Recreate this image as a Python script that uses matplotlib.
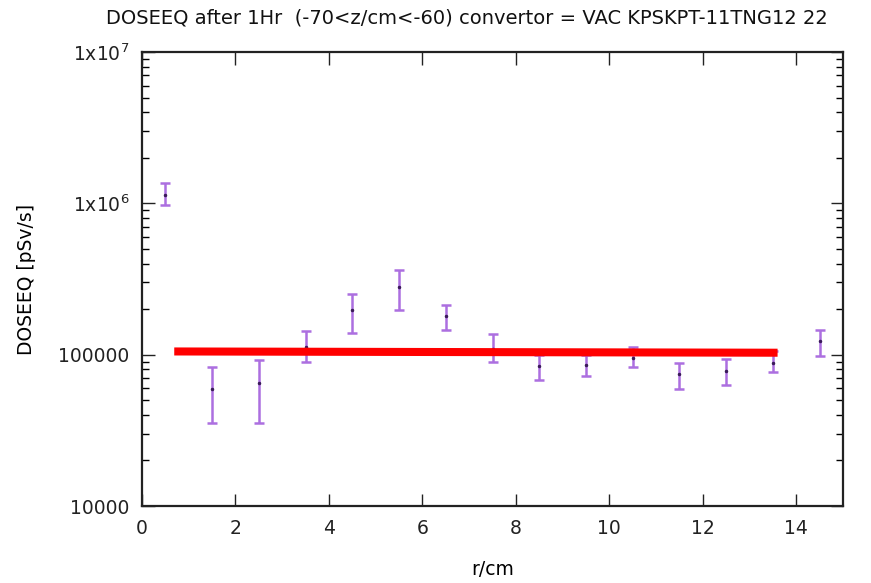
import matplotlib
matplotlib.use("Agg")
import matplotlib.pyplot as plt
import numpy as np
from matplotlib.ticker import LogLocator, FixedLocator, FixedFormatter, NullFormatter

r = [0.5, 1.5, 2.5, 3.5, 4.5, 5.5, 6.5, 7.5, 8.5, 9.5, 10.5, 11.5, 12.5, 13.5, 14.5]
dose = [1.14e6, 5.9e4, 6.5e4, 1.13e5, 1.96e5, 2.82e5, 1.79e5, 1.09e5, 8.4e4, 8.6e4,
        9.5e4, 7.4e4, 7.8e4, 8.8e4, 1.24e5]
dose_lo = [9.7e5, 3.52e4, 3.52e4, 8.9e4, 1.39e5, 1.98e5, 1.46e5, 9.0e4, 6.85e4, 7.2e4,
           8.25e4, 5.95e4, 6.35e4, 7.65e4, 9.75e4]
dose_hi = [1.37e6, 8.3e4, 9.2e4, 1.43e5, 2.51e5, 3.6e5, 2.14e5, 1.36e5, 1.0e5, 1.0e5,
           1.12e5, 8.75e4, 9.4e4, 1.06e5, 1.46e5]
fit_r = [0.69, 13.6]
fit_dose = [1.05e5, 1.03e5]

title = "DOSEEQ after 1Hr  (-70<z/cm<-60) convertor = VAC KPSKPT-11TNG12 22"
xlabel = "r/cm"
ylabel = "DOSEEQ [pSv/s]"
xticks = [0, 2, 4, 6, 8, 10, 12, 14]
yticks = [1e4, 1e5, 1e6, 1e7]
yticklabels = ["10000", "100000", r"1x10$^{6}$", r"1x10$^{7}$"]

plt.rcParams['font.family'] = ['DejaVu Sans']
fig = plt.figure(figsize=(8.71, 5.83), dpi=100)
ax = fig.add_axes([142/871, 1-506/583, (843-142)/871, (506-52)/583])

dose = np.array(dose)
yerr = [dose - np.array(dose_lo), np.array(dose_hi) - dose]
ax.errorbar(r, dose, yerr=yerr, fmt='o', ms=1.5, color='#a565dc', mfc='#3a1a5a', mec='#3a1a5a',
            ecolor='#ac6fe0', elinewidth=1.8, capsize=3.8, capthick=1.8, zorder=3)
ax.plot(fit_r, fit_dose, color='#ff0000', lw=5.8, solid_capstyle='butt', zorder=4)

ax.set_yscale('log')
ax.set_xlim(0, 15)
ax.set_ylim(1e4, 1e7)
ax.xaxis.set_major_locator(FixedLocator(xticks))
ax.yaxis.set_major_locator(FixedLocator(yticks))
ax.yaxis.set_major_formatter(FixedFormatter(yticklabels))
ax.yaxis.set_minor_locator(LogLocator(base=10, subs=np.arange(2, 10), numticks=20))
ax.yaxis.set_minor_formatter(NullFormatter())
ax.tick_params(which='major', direction='in', length=9, width=1, top=True, right=True,
               labelsize=13.5, pad=9, colors='#222222')
ax.tick_params(which='minor', direction='in', length=5, width=1, top=True, right=True)
for s in ax.spines.values():
    s.set_linewidth(1.6)
    s.set_color('#222222')

fig.text(467/871, 1-18/583, title, fontsize=14, ha='center', va='center', color='#111111')
ax.set_xlabel(xlabel, fontsize=13.5, labelpad=16)
ax.set_ylabel(ylabel, fontsize=13.5, labelpad=16)

fig.savefig("out.png", dpi=100)
